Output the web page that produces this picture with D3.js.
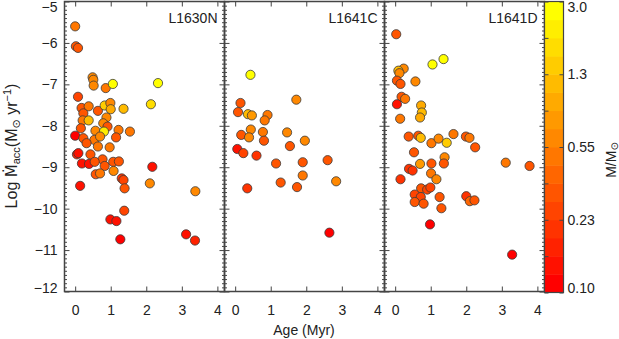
<!DOCTYPE html>
<html lang="en">
<head>
<meta charset="UTF-8" />
<title>Accretion rate vs age</title>
<script src="https://cdn.jsdelivr.net/npm/d3@7"></script>
<style>
  body { margin: 0; background: #fff; }
  text { font-family: "Liberation Sans", "DejaVu Sans", sans-serif; fill: #222; }
</style>
</head>
<body>
<svg id="chart" width="619" height="339"></svg>
<script>
// ---- data ----
var regionNames = ["L1630N", "L1641C", "L1641D"];

var ageL1630N = [0.00,0.02,0.08,0.49,0.51,0.52,0.86,1.06,2.33,2.13,0.08,0.18,0.38,0.23,0.64,0.83,0.99,1.00,1.36,0.21,
  0.38,0.88,0.79,0.91,0.16,0.57,0.81,1.22,1.54,0.00,0.23,0.54,0.70,1.15,0.32,0.64,0.97,0.05,0.09,0.43,
  0.77,0.19,0.39,0.55,0.83,1.07,1.23,2.17,1.08,0.58,0.70,0.14,1.31,1.36,1.39,2.10,3.38,1.38,0.99,1.16,
  1.27,3.12,3.37];
var maccL1630N = [-5.60,-6.08,-6.12,-6.83,-6.89,-7.03,-7.09,-6.99,-6.97,-7.48,-7.30,-7.57,-7.53,-7.70,-7.64,-7.51,-7.45,-7.60,-7.59,-7.87,
  -7.87,-7.80,-7.94,-8.02,-8.06,-8.12,-8.14,-8.10,-8.14,-8.24,-8.30,-8.34,-8.26,-8.28,-8.42,-8.50,-8.52,-8.69,-8.66,-8.69,
  -8.81,-8.91,-8.92,-8.87,-8.97,-8.87,-8.86,-8.99,-9.09,-9.17,-9.15,-9.45,-9.27,-9.31,-9.51,-9.39,-9.58,-10.05,-10.26,-10.30,
  -10.74,-10.62,-10.77];
var massL1630N = [0.5,0.3,0.3,0.6,0.6,0.6,0.5,2.6,2.6,1.8,0.28,0.3,0.45,0.3,0.35,1.3,0.6,1.0,1.2,0.45,
  1.2,0.55,0.6,0.35,0.3,0.6,2.2,0.5,0.45,0.12,0.3,0.5,0.6,0.33,0.3,0.5,0.5,0.17,0.13,0.3,
  0.3,0.15,0.15,0.3,0.35,0.3,0.3,0.15,0.6,0.3,0.5,0.15,0.2,0.28,0.3,0.6,0.6,0.28,0.15,0.15,
  0.12,0.15,0.17];

var ageL1641C = [0.43,1.72,0.15,0.08,0.36,0.47,0.91,0.83,0.44,0.17,0.39,0.78,0.81,1.46,1.96,1.54,0.06,0.23,0.60,1.15,
  1.90,2.60,0.34,1.28,1.74,1.90,2.84,2.65];
var maccL1641C = [-6.77,-7.37,-7.45,-7.67,-7.72,-7.75,-7.74,-7.87,-8.09,-8.22,-8.28,-8.15,-8.36,-8.16,-8.36,-8.49,-8.56,-8.66,-8.72,-8.91,
  -8.88,-8.83,-9.51,-9.37,-9.48,-9.20,-9.34,-10.58];
var massL1641C = [2.8,0.6,0.3,0.35,1.1,0.7,0.5,0.45,0.55,0.3,0.55,0.5,0.35,0.6,0.6,0.35,0.13,0.25,0.2,0.3,
  0.35,0.3,0.22,0.3,0.3,0.5,0.6,0.11];

var ageL1641D = [0.03,1.05,1.36,0.24,0.09,0.12,0.05,0.15,0.57,0.18,0.28,0.05,0.73,0.75,0.70,0.14,0.38,0.65,0.72,1.02,
  1.22,1.45,1.64,1.99,2.09,2.25,0.53,1.39,0.70,1.02,1.37,3.11,3.78,0.39,0.49,0.15,1.01,1.16,0.73,0.55,
  0.72,0.90,0.99,0.55,0.80,1.25,1.30,2.00,2.10,2.23,0.98,3.29];
var maccL1641D = [-5.79,-6.52,-6.39,-6.62,-6.67,-6.73,-6.91,-6.99,-6.93,-7.30,-7.35,-7.48,-7.51,-7.68,-7.80,-7.83,-8.26,-8.24,-8.29,-8.42,
  -8.31,-8.41,-8.20,-8.26,-8.29,-8.52,-8.64,-8.76,-8.92,-8.91,-8.91,-8.89,-8.97,-9.04,-9.08,-9.29,-9.15,-9.29,-9.51,-9.66,
  -9.72,-9.54,-9.49,-9.84,-9.88,-9.72,-9.99,-9.70,-9.82,-9.80,-10.38,-11.11];
var massL1641D = [0.35,2.6,2.8,0.6,1.1,0.6,0.3,0.3,0.6,0.3,0.45,0.13,0.9,1.1,0.9,0.45,0.3,0.3,1.1,0.5,
  0.6,1.5,0.5,0.35,0.5,0.3,0.3,0.6,0.7,0.3,0.3,0.5,0.35,0.22,0.22,0.22,0.5,0.6,0.3,0.28,
  0.28,0.25,0.28,0.3,0.3,0.3,0.3,0.22,0.4,0.3,0.11,0.11];

var xTicks = [0, 1, 2, 3, 4];
var yTicks = [-12, -11, -10, -9, -8, -7, -6, -5];
var massTickLabels = ["0.10", "0.23", "0.55", "1.3", "3.0"];

// ---- layout ----
var svg = d3.select("#chart");
var panelW = 160, plotTop = 1.5, plotBottom = 291.5;
var left0 = 64.5;
var frameColor = "#444";

var y = d3.scaleLinear().domain([-12, -5]).range([plotBottom, plotTop]);

// colour: 16 discrete bands from red to yellow in log mass
var logMin = Math.log10(0.1), logMax = Math.log10(3.0);
var nBands = 16;
var bandColors = d3.quantize(d3.interpolateRgb("#ff0000", "#ffff00"), nBands);
var color = d3.scaleQuantize().domain([logMin, logMax]).range(bandColors);
function massColor(m) {
  var l = Math.max(logMin, Math.min(logMax, Math.log10(m)));
  return color(l);
}

var panels = [
  { name: regionNames[0], age: ageL1630N, macc: maccL1630N, mass: massL1630N },
  { name: regionNames[1], age: ageL1641C, macc: maccL1641C, mass: massL1641C },
  { name: regionNames[2], age: ageL1641D, macc: maccL1641D, mass: massL1641D }
];

var minorY = d3.range(-120, -49).map(function(d){ return d / 10; })
  .filter(function(d){ return Math.abs(d - Math.round(d)) > 1e-6; });

function clampLabel(v) { return Math.max(7, Math.min(288, v)); }

panels.forEach(function(p, i) {
  var left = left0 + i * panelW;
  var x = d3.scaleLinear().domain([-0.3, 4.2]).range([left, left + panelW]);
  var g = svg.append("g");

  // points
  var pts = p.age.map(function(a, k) { return { age: a, macc: p.macc[k], mass: p.mass[k] }; });
  g.append("g").selectAll("circle")
    .data(pts)
    .enter()
    .append("circle")
    .attr("cx", function(d){ return x(d.age); })
    .attr("cy", function(d){ return y(d.macc); })
    .attr("r", 4.6)
    .attr("fill", function(d){ return massColor(d.mass); })
    .attr("stroke", "#3a3a3a")
    .attr("stroke-width", 0.8);

  // y ticks, left and right, inward
  [[d3.axisLeft, left], [d3.axisRight, left + panelW]].forEach(function(a) {
    svg.append("g").attr("transform", "translate(" + a[1] + ",0)")
      .call(a[0](y).tickValues(yTicks).tickSize(-5).tickFormat(""))
      .call(function(s){ s.select(".domain").remove(); s.selectAll("line").attr("stroke", frameColor); });
    svg.append("g").attr("transform", "translate(" + a[1] + ",0)")
      .call(a[0](y).tickValues(minorY).tickSize(-2.5).tickFormat(""))
      .call(function(s){ s.select(".domain").remove(); s.selectAll("line").attr("stroke", frameColor); });
  });

  // x ticks, bottom (labelled) and top
  svg.append("g").attr("transform", "translate(0," + plotBottom + ")")
    .call(d3.axisBottom(x).tickValues(xTicks).tickSize(-5).tickPadding(14).tickFormat(d3.format("d")))
    .call(function(s){
      s.select(".domain").remove();
      s.selectAll("line").attr("stroke", frameColor);
      s.selectAll("text").attr("font-size", 14).attr("font-family", null).style("fill", "#222");
    });
  svg.append("g").attr("transform", "translate(0," + plotTop + ")")
    .call(d3.axisTop(x).tickValues(xTicks).tickSize(-5).tickFormat(""))
    .call(function(s){ s.select(".domain").remove(); s.selectAll("line").attr("stroke", frameColor); });

  // frame
  svg.append("rect")
    .attr("x", left).attr("y", plotTop)
    .attr("width", panelW).attr("height", plotBottom - plotTop)
    .attr("fill", "none").attr("stroke", frameColor).attr("stroke-width", 1.5);

  // region name
  svg.append("text")
    .attr("x", left + panelW - 7).attr("y", 23)
    .attr("text-anchor", "end").attr("font-size", 14)
    .text(p.name);
});

// y tick labels on the first panel
svg.append("g").selectAll("text")
  .data(yTicks)
  .enter()
  .append("text")
  .attr("x", left0 - 7)
  .attr("y", function(d){ return clampLabel(y(d)); })
  .attr("dy", "0.35em")
  .attr("text-anchor", "end")
  .attr("font-size", 14)
  .text(function(d){ return "\u2212" + Math.abs(d); });

// y axis title
var yTitle = svg.append("text")
  .attr("transform", "translate(17,146) rotate(-90)")
  .attr("text-anchor", "middle")
  .attr("font-size", 16);
yTitle.append("tspan").text("Log ");
yTitle.append("tspan").style("font-family", "'DejaVu Sans', sans-serif").attr("font-size", 15).text("\u1E40");
yTitle.append("tspan").attr("font-size", 11).attr("dy", 3).text("acc");
yTitle.append("tspan").attr("dy", -3).text("(M");
yTitle.append("tspan").attr("font-size", 11).attr("dy", 3).text("\u2299");
yTitle.append("tspan").attr("dy", -3).text(" yr");
yTitle.append("tspan").attr("font-size", 11).attr("dy", -6).text("\u22121");
yTitle.append("tspan").attr("dy", 6).text(")");

// x axis title
svg.append("text")
  .attr("x", 304).attr("y", 335)
  .attr("text-anchor", "middle")
  .attr("font-size", 14)
  .text("Age (Myr)");

// ---- colour bar ----
var cbX = left0 + 3 * panelW, cbW = 19;
var cbY = d3.scaleLinear().domain([logMin, logMax]).range([plotBottom + 1, plotTop]);
var bandStep = (logMax - logMin) / nBands;
svg.append("g").selectAll("rect")
  .data(bandColors)
  .enter()
  .append("rect")
  .attr("x", cbX)
  .attr("y", function(d, i){ return cbY(logMin + (i + 1) * bandStep); })
  .attr("width", cbW)
  .attr("height", function(d, i){ return cbY(logMin + i * bandStep) - cbY(logMin + (i + 1) * bandStep) + 0.5; })
  .attr("fill", function(d){ return d; });

var cbLeftTicks = d3.range(0, 9).map(function(k){ return logMin + k * (logMax - logMin) / 8; });
var cbRightTicks = d3.range(0, 5).map(function(k){ return logMin + k * (logMax - logMin) / 4; });
svg.append("g").attr("transform", "translate(" + cbX + ",0)")
  .call(d3.axisLeft(cbY).tickValues(cbLeftTicks).tickSize(-4).tickFormat(""))
  .call(function(s){ s.select(".domain").remove(); s.selectAll("line").attr("stroke", frameColor); });
svg.append("g").attr("transform", "translate(" + (cbX + cbW) + ",0)")
  .call(d3.axisRight(cbY).tickValues(cbRightTicks).tickSize(-4).tickFormat(""))
  .call(function(s){ s.select(".domain").remove(); s.selectAll("line").attr("stroke", frameColor); });
svg.append("rect")
  .attr("x", cbX).attr("y", plotTop)
  .attr("width", cbW).attr("height", plotBottom + 1 - plotTop)
  .attr("fill", "none").attr("stroke", frameColor).attr("stroke-width", 1.2);

svg.append("g").selectAll("text")
  .data(cbRightTicks)
  .enter()
  .append("text")
  .attr("x", cbX + cbW + 4)
  .attr("y", function(d){ return clampLabel(cbY(d)); })
  .attr("dy", "0.35em")
  .attr("font-size", 14)
  .text(function(d, i){ return massTickLabels[i]; });

var cbTitle = svg.append("text")
  .attr("transform", "translate(616,160) rotate(-90)")
  .attr("text-anchor", "middle")
  .attr("font-size", 14);
cbTitle.append("tspan").text("M/M");
cbTitle.append("tspan").attr("font-size", 10).attr("dy", 2).text("\u2299");
</script>
</body>
</html>
